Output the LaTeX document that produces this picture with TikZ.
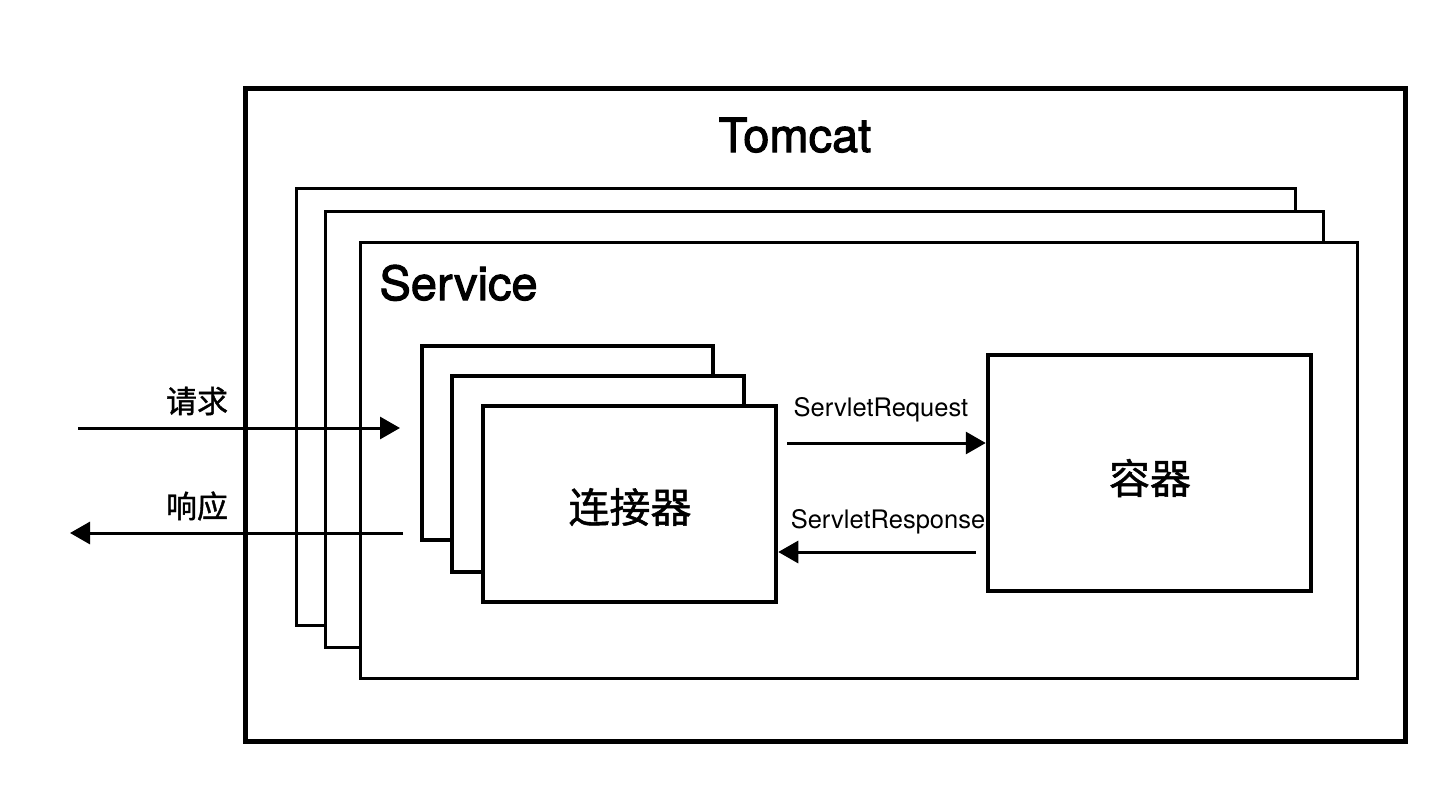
\documentclass[tikz,border=0pt]{standalone}
\usepackage{fontspec}
\setmainfont{TeX Gyre Heros}
\newfontfamily\medsans{TeX Gyre Heros}[FakeBold=2.2]
\newfontfamily\cjk{Noto Sans CJK SC}[FakeBold=1.2]
\usetikzlibrary{arrows.meta}
\begin{document}
\begin{tikzpicture}[x=1pt,y=-1pt,
  outer/.style={draw=black, line width=5pt, fill=white, rectangle, inner sep=0pt},
  svcbox/.style={draw=black, line width=3pt, fill=white, rectangle, inner sep=0pt},
  connbox/.style={draw=black, line width=4.5pt, fill=white, rectangle, inner sep=0pt},
  flow/.style={line width=3pt, -{Triangle[length=20pt,width=22pt]}},
  bigtext/.style={font=\medsans\fontsize{47}{50}\selectfont},
  cjktext/.style={font=\cjk\fontsize{41}{44}\selectfont},
  lbltext/.style={font=\cjk\fontsize{31}{34}\selectfont},
  smalltext/.style={font=\fontsize{25.5}{28}\selectfont}
]
\useasboundingbox (0,0) rectangle (1436,790);
% Tomcat
\node[outer, minimum width=1160pt, minimum height=653pt] (tomcat) at (825,414.5) {};
\node[bigtext, anchor=base] (tomcatlbl) at (795,152) {Tomcat};
% Service stack
\node[svcbox, minimum width=999pt, minimum height=437pt] (svc1) at (795.5,406.5) {};
\node[svcbox, minimum width=998pt, minimum height=436pt] (svc2) at (824,429) {};
\node[svcbox, minimum width=997pt, minimum height=436pt] (svc3) at (858.5,460) {};
\node[bigtext, anchor=base west] (svclbl) at (376,300) {Service};
% Connector stack
\node[connbox, minimum width=291pt, minimum height=194pt] (conn1) at (567.5,443) {};
\node[connbox, minimum width=292pt, minimum height=196pt] (conn2) at (598,474) {};
\node[connbox, minimum width=293pt, minimum height=196pt] (conn3) at (629.5,504) {};
\node[cjktext] (connlbl) at (630,507) {连接器};
% Container
\node[connbox, minimum width=323pt, minimum height=236pt] (cont) at (1149.5,473) {};
\node[cjktext] (contlbl) at (1150,478) {容器};
% external arrows
\coordinate (reqa) at (78,428);
\coordinate (reqb) at (400,428);
\coordinate (resa) at (403,533);
\coordinate (resb) at (70,533);
\draw[flow] (reqa) -- (reqb);
\draw[flow] (resa) -- (resb);
\node[lbltext] (reqlbl) at (197,401) {请求};
\node[lbltext] (reslbl) at (197,506) {响应};
% internal arrows
\draw[flow] (conn3.east |- 0,443) ++(9,0) coordinate (sra) -- (cont.west |- 0,443) coordinate (srb);
\draw[flow] (cont.west |- 0,552) ++(-10,0) coordinate (spa) -- (conn3.east |- 0,552) coordinate (spb);
\node[smalltext, anchor=base] (srlbl) at (881,416) {ServletRequest};
\node[smalltext, anchor=base] (splbl) at (888,528) {ServletResponse};
\end{tikzpicture}
\end{document}
